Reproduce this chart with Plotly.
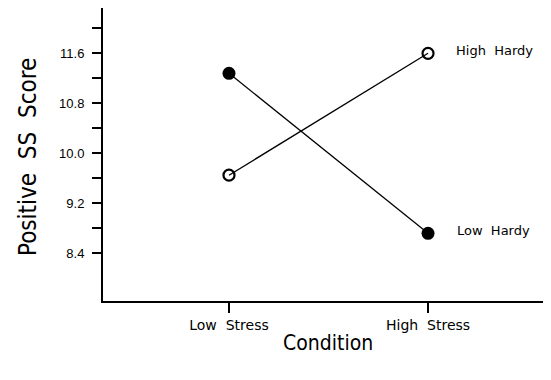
import plotly.graph_objects as go

conditions = ["Low  Stress", "High  Stress"]
high_hardy = [9.65, 11.6]
low_hardy = [11.28, 8.72]
series_labels = ["High  Hardy", "Low  Hardy"]
y_tickvals = [8.4, 9.2, 10.0, 11.6, 10.8]
y_ticklabels = ["8.4", "9.2", "10.0", "11.6", "10.8"]
y_minor = [8.8, 9.6, 10.4, 11.2, 12.0]

FONT = "DejaVu Sans"
FONT_C = "DejaVu Sans Condensed, DejaVu Sans"
FONT_N = "Liberation Sans, Arial, sans-serif"
xpos = [0, 1]

fig = go.Figure()
fig.add_trace(go.Scatter(
    x=xpos, y=low_hardy, mode="lines+markers",
    line=dict(color="black", width=1.3),
    marker=dict(symbol="circle", size=13, color="black"),
    showlegend=False))
fig.add_trace(go.Scatter(
    x=xpos, y=high_hardy, mode="lines+markers",
    line=dict(color="black", width=1.3),
    marker=dict(symbol="circle-open", size=11, color="black", line=dict(width=2.2)),
    showlegend=False))

fig.add_annotation(x=xpos[1], y=high_hardy[1], text=series_labels[0], showarrow=False,
                   xanchor="left", xshift=26, yshift=3, font=dict(size=13, family=FONT, color="black"))
fig.add_annotation(x=xpos[1], y=low_hardy[1], text=series_labels[1], showarrow=False,
                   xanchor="left", xshift=27, yshift=3, font=dict(size=13, family=FONT, color="black"))

PW = 456
PH = 293
fig.add_annotation(xref="paper", yref="paper", x=(28 - 103) / PW, y=1 - (157 - 8) / PH,
                   xanchor="center", yanchor="middle",
                   text="Positive  SS  Score", textangle=-90, showarrow=False,
                   font=dict(size=24, family=FONT_C, color="black"))
fig.add_annotation(xref="paper", yref="paper", x=(328 - 103) / PW, y=-(343 - 301) / PH,
                   xanchor="center", yanchor="middle",
                   text="Condition", showarrow=False,
                   font=dict(size=21, family=FONT_C, color="black"))

fig.update_xaxes(range=[-0.633, 1.658], tickvals=xpos, ticktext=conditions,
                 showgrid=False, zeroline=False, showline=True, linecolor="black", linewidth=2,
                 ticks="outside", ticklen=10, tickwidth=2, tickcolor="black",
                 tickfont=dict(size=14, family=FONT, color="black"))
fig.update_yaxes(range=[7.637, 12.325], tickvals=y_tickvals, ticktext=y_ticklabels,
                 showgrid=False, zeroline=False, showline=True, linecolor="black", linewidth=2,
                 ticks="outside", ticklen=9, tickwidth=2, tickcolor="black",
                 ticklabelstandoff=5,
                 tickfont=dict(size=13, family=FONT_N, color="black"),
                 minor=dict(tickvals=y_minor, ticks="outside", ticklen=9, tickwidth=2, tickcolor="black"))

fig.update_layout(width=551, height=380, margin=dict(l=95, r=0, t=0, b=87),
                  plot_bgcolor="white", paper_bgcolor="white")
fig.write_html("out.html")
